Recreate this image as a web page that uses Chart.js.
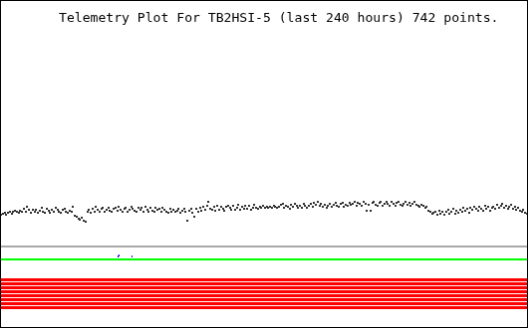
<!DOCTYPE html>
<html>
<head>
<meta charset="utf-8">
<script src="https://cdn.jsdelivr.net/npm/chart.js@4/dist/chart.umd.min.js"></script>
<style>
  html, body { margin: 0; padding: 0; background: #fff; }
  #c { display: block; border: 1px solid #000; background: #fff; }
</style>
</head>
<body>
<canvas id="c" width="528" height="328"></canvas>
<script>
// ---- data ----
const titleText = "Telemetry Plot For TB2HSI-5 (last 240 hours) 742 points.";
const hoursSpan = 240;

// main telemetry series (arbitrary plot units), evenly sampled over the 240 h window
const telemetryValues = [
  113,114,115,113,115,116,114,116,117,116,
  115,117,116,119,116,121,118,115,118,116,
  118,115,117,120,116,115,119,117,115,118,
  116,120,118,116,115,118,119,116,115,117,
  116,121,112,111,109,108,110,107,106,116,
  118,115,119,116,121,118,116,119,120,116,
  118,120,117,116,119,120,117,121,118,116,
  119,120,116,118,121,119,117,116,120,118,
  120,116,121,118,116,120,117,116,120,118,
  119,116,120,118,116,115,119,116,118,116,
  117,119,115,117,119,116,107,117,119,115,
  111,119,116,120,117,121,118,122,126,119,
  118,121,117,122,118,121,119,117,121,122,
  120,118,122,118,120,123,118,121,119,122,
  119,122,118,120,123,120,119,121,120,122,
  120,121,120,121,120,122,121,120,121,123,
  124,120,122,121,119,123,121,124,122,120,
  122,120,124,122,120,122,124,121,125,123,
  126,122,124,121,123,120,122,124,121,123,
  125,122,121,124,125,121,123,122,125,123,
  124,126,122,125,124,122,126,124,117,123,
  117,125,126,123,122,125,126,122,124,126,
  124,122,126,124,122,125,126,123,122,124,
  126,123,125,122,124,126,123,122,121,123,
  122,120,121,117,116,114,115,116,113,117,
  114,116,113,116,118,114,116,119,114,117,
  115,118,116,120,117,119,115,120,118,121,
  119,117,121,119,117,122,119,121,117,120,
  121,119,123,120,122,124,120,122,119,121,
  123,119,121,118,120,117,116,118,115,114
];

// secondary (blue) samples: hour and value
const blueHours  = [53.41, 53.86, 59.77];
const blueValues = [71, 72, 71];

// reference / limit lines
const grayLimit  = 81;
const greenLimit = 68;
const redLimits  = [47.5, 43.5, 39.5, 35.5, 31.5, 27.5, 23.5, 19.5];

const yMin = 0, yMax = 328;

// ---- build chart ----
function markImage(w, h, color) {
  const cv = document.createElement('canvas');
  cv.width = w; cv.height = h;
  const g = cv.getContext('2d');
  g.fillStyle = color; g.fillRect(0, 0, w, h);
  return cv;
}
const darkMark = markImage(2, 2, '#333333');
const blueMark = markImage(1, 2, '#0000ff');

const n = telemetryValues.length;
const telemetryPoints = telemetryValues.map((v, i) => ({ x: i * hoursSpan / (n - 1), y: v }));
const bluePoints = blueHours.map((h, i) => ({ x: h, y: blueValues[i] }));

function hLine(v, color, width) {
  return {
    type: 'line',
    data: [{ x: 0, y: v }, { x: hoursSpan, y: v }],
    borderColor: color,
    borderWidth: width,
    pointRadius: 0,
    fill: false,
    tension: 0
  };
}

const datasets = [
  hLine(grayLimit, '#a8a8a8', 2),
  hLine(greenLimit, '#00ff00', 2),
  ...redLimits.map(v => hLine(v, '#ff0000', 3)),
  {
    type: 'scatter',
    data: telemetryPoints,
    pointStyle: darkMark,
    pointRadius: 1,
    showLine: false
  },
  {
    type: 'scatter',
    data: bluePoints,
    pointStyle: blueMark,
    pointRadius: 1,
    showLine: false
  }
];

const crisp = {
  id: 'crisp',
  beforeDatasetsDraw(chart) { chart.ctx.imageSmoothingEnabled = false; },
  beforeDatasetDraw(chart) { chart.ctx.imageSmoothingEnabled = false; }
};

const titlePlugin = {
  id: 'plotTitle',
  afterDraw(chart) {
    const ctx = chart.ctx;
    ctx.save();
    ctx.font = '13.1px "DejaVu Sans Mono", monospace';
    ctx.fillStyle = '#000';
    ctx.textBaseline = 'alphabetic';
    ctx.textAlign = 'left';
    ctx.fillText(titleText, 58, 21);
    ctx.restore();
  }
};

new Chart(document.getElementById('c'), {
  type: 'scatter',
  data: { datasets },
  options: {
    responsive: false,
    animation: false,
    devicePixelRatio: 1,
    layout: { padding: 0, autoPadding: false },
    plugins: { legend: { display: false }, tooltip: { enabled: false }, title: { display: false } },
    scales: {
      x: { type: 'linear', min: 0, max: hoursSpan, display: false },
      y: { type: 'linear', min: yMin, max: yMax, display: false }
    }
  },
  plugins: [crisp, titlePlugin]
});
</script>
</body>
</html>
